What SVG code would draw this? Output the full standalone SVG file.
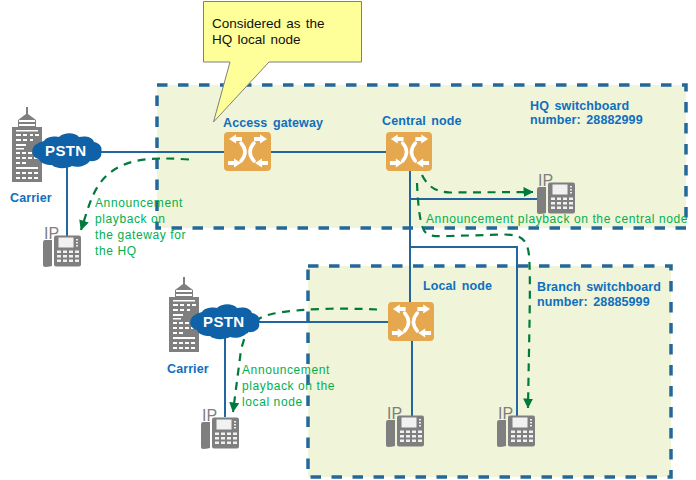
<svg xmlns="http://www.w3.org/2000/svg" width="696" height="480" viewBox="0 0 696 480">
<style>
  .zone{fill:#f0f4d9;stroke:none}
  .zoneedge{fill:none;stroke:#24689a;stroke-width:3.5;stroke-dasharray:10.5 10.5}
  .link{fill:none;stroke:#22659f;stroke-width:2}
  .flow{fill:none;stroke:#007a3c;stroke-width:2.2;stroke-dasharray:8 6.500}
  .tag{font:bold 12.500px "Liberation Sans",Arial,sans-serif;fill:#0f6fbe;word-spacing:2px;letter-spacing:.1px}
  .note{font:12px "Liberation Sans",Arial,sans-serif;fill:#00b050;letter-spacing:.6px}
  .cloudtext{font:bold 15px "Liberation Sans",Arial,sans-serif;fill:#fff;letter-spacing:.4px}
  .iptext{font:16px "Liberation Sans",Arial,sans-serif;fill:#7f7f7f}
  .calltext{font:13.500px "Liberation Sans",Arial,sans-serif;fill:#111;word-spacing:1.5px}
</style>
<defs>
  <marker id="head" viewBox="0 0 10 10" refX="9.500" refY="5" markerWidth="10" markerHeight="10" markerUnits="userSpaceOnUse" orient="auto">
    <path d="M0 0L10 5L0 10Z" fill="#007a3c"/>
  </marker>
  <symbol id="switch" viewBox="0 0 47 39" preserveAspectRatio="none" overflow="visible">
    <rect width="47" height="39" rx="4" fill="#e5a84f"/>
    <g fill="#fff">
      <path d="M5 7L12 2.500V5H18V9H12V11.500Z"/>
      <path d="M43 7L36 2.500V5H30V9H36V11.500Z"/>
      <path d="M17 31L10 26.500V29H4V33H10V35.500Z"/>
      <path d="M31 31L38 26.500V29H44V33H38V35.500Z"/>
    </g>
    <g fill="none" stroke="#fff" stroke-width="3.500" stroke-linecap="round">
      <path d="M17 11Q25 20 17 29"/>
      <path d="M30 11Q22 20 30 29"/>
    </g>
  </symbol>
  <symbol id="tower" viewBox="0 0 30 75" overflow="visible">
    <path d="M14 0H16V7L24 13V20H30V75H0V20H6V13L14 7Z" fill="#7f7f7f"/>
    <g fill="#fff">
      <rect x="7" y="13" width="16" height="2"/><rect x="7" y="17" width="16" height="2"/>
      <rect x="4" y="23" width="22" height="1.500"/>
      <path d="M4 27h5v2h-5zM11 27h4v2h-4zM18 27h3v2h-3zM23 27h4v2h-4z"/>
      <path d="M4 32h5v2h-5zM11 32h4v2h-4zM18 32h3v2h-3z"/>
      <rect x="4" y="37" width="10" height="2"/><rect x="4" y="41" width="8" height="1.500"/>
      <path d="M4 45h4v2h-4zM10 45h4v2h-4zM16 45h4v2h-4z"/>
      <path d="M4 50h4v2h-4zM10 50h4v2h-4zM16 50h4v2h-4zM22 50h4v2h-4z"/>
      <path d="M4 55h4v2h-4zM10 55h4v2h-4z"/>
      <rect x="4" y="60" width="22" height="2"/>
      <path d="M4 65h4v2h-4zM10 65h4v2h-4zM16 65h4v2h-4zM22 65h4v2h-4z"/>
      <path d="M4 70h4v2h-4zM10 70h4v2h-4zM16 70h4v2h-4zM22 70h4v2h-4z"/>
    </g>
  </symbol>
  <symbol id="pstn" viewBox="0 0 70 35" overflow="visible">
    <path d="M12 8C15 3 24 3 27 4C32 -1 43 -1 47 4C52 3 60 3 62 9C68 10 71 15 69 19C71 25 64 29 58 28C54 33 46 35 40 33C34 36 24 36 20 32C14 32 8 30 7 26C1 25 -1 19 1 15C3 11 8 9 12 8Z" fill="#0f62a8"/>
  </symbol>
  <symbol id="phone" viewBox="0 0 39 40" overflow="visible">
    <text class="iptext" x="2" y="12">IP</text>
    <path d="M1 16Q1 13 3 13H10V39Q6 40 3 40Q1 40 1 38Z" fill="#7f7f7f"/>
    <rect x="12" y="8.500" width="27" height="31" rx="2" fill="#7f7f7f"/>
    <rect x="16.500" y="10.500" width="15" height="10" fill="#f1f1f1"/>
    <path d="M34 12h2v1.500h-2zM34 15h2v1.500h-2zM34 18h2v1.500h-2z" fill="#eee"/>
    <g fill="#f1f1f1">
      <path d="M15 23.500h4v2.500h-4zM21 23.500h4v2.500h-4zM27 23.500h4v2.500h-4zM33 23.500h4v2.500h-4z"/>
      <path d="M15 28h4v2.500h-4zM21 28h4v2.500h-4zM27 28h4v2.500h-4zM33 28h4v2.500h-4z"/>
      <path d="M15 32.500h4v2.500h-4zM21 32.500h4v2.500h-4zM27 32.500h4v2.500h-4zM33 32.500h4v2.500h-4z"/>
    </g>
  </symbol>
</defs>

<!-- Switchboard zones -->
<g id="zone-hq">
  <rect class="zone" x="157" y="85" width="529" height="143"/>
  <rect class="zoneedge" x="157" y="85" width="529" height="143"/>
</g>
<g id="zone-branch">
  <rect class="zone" x="308" y="266" width="363" height="211"/>
  <rect class="zoneedge" x="308" y="266" width="363" height="211"/>
</g>

<!-- Links and announcement paths -->
<g id="connectors">
  <path class="link" d="M95 152H224M271 152H386"/>
  <path class="link" d="M67 160V238"/>
  <path class="link" d="M410 171V302"/>
  <path class="link" d="M410 199H537"/>
  <path class="link" d="M410 247H517V416"/>
  <path class="link" d="M250 322H388"/>
  <path class="link" d="M225 335V417"/>
  <path class="link" d="M412 341V416"/>
  <path class="flow" marker-end="url(#head)" d="M189 159.500C150 157 117 157 98 186C90 199 87 212 81 230"/>
  <path class="flow" marker-end="url(#head)" d="M422 175C428 187 436 192 450 192.500L533 192"/>
  <path class="flow" marker-end="url(#head)" d="M417 183C418 205 420 228 426 233C430 237 440 236 450 236L505 234.500C520 235 527 238 529 255C531 280 529 340 528 408"/>
  <path class="flow" marker-end="url(#head)" d="M377 309.500C345 308 300 308 272 314C252 318 246 330 241 350L233 412"/>
</g>

<g id="callout">
  <path d="M203.500 1.500H361.500V62H269L213.500 122L230 62H203.500Z" fill="#ffff99" stroke="#7f7f7f" stroke-width="1"/>
  <text class="calltext" x="212" y="28">Considered as the</text>
  <text class="calltext" x="212" y="44">HQ local node</text>
</g>

<g id="carrier-hq">
  <use href="#tower" x="12" y="107" width="30" height="75"/>
  <use href="#pstn" x="32" y="133" width="70" height="35"/>
  <text class="cloudtext" x="45" y="156">PSTN</text>
  <text class="tag" x="10" y="202">Carrier</text>
</g>
<g id="carrier-branch">
  <use href="#tower" x="169" y="277" width="30" height="75"/>
  <use href="#pstn" x="190" y="304" width="70" height="35"/>
  <text class="cloudtext" x="203" y="327">PSTN</text>
  <text class="tag" x="167" y="373">Carrier</text>
</g>

<g id="access-gateway">
  <use href="#switch" x="224" y="132" width="47" height="39"/>
  <text class="tag" x="223" y="127">Access gateway</text>
</g>
<g id="central-node">
  <use href="#switch" x="386" y="132" width="46" height="39"/>
  <text class="tag" x="382" y="125">Central node</text>
</g>
<g id="local-node">
  <use href="#switch" x="388" y="302" width="46" height="39"/>
  <text class="tag" x="423" y="290">Local node</text>
</g>

<g id="phone-carrier-hq"><use href="#phone" x="42" y="227" width="39" height="40"/></g>
<g id="phone-central"><use href="#phone" x="536" y="174" width="39" height="40"/></g>
<g id="phone-carrier-branch"><use href="#phone" x="200" y="409" width="39" height="40"/></g>
<g id="phone-local"><use href="#phone" x="385" y="407" width="39" height="40"/></g>
<g id="phone-branch"><use href="#phone" x="496" y="407" width="39" height="40"/></g>

<g id="labels">
  <text class="tag" x="530" y="110">HQ switchboard</text>
  <text class="tag" x="530" y="124">number: 28882999</text>
  <text class="tag" x="537" y="291">Branch switchboard</text>
  <text class="tag" x="537" y="306">number: 28885999</text>
  <text class="note" x="95" y="207">Announcement</text>
  <text class="note" x="95" y="223">playback on</text>
  <text class="note" x="95" y="239">the gateway for</text>
  <text class="note" x="95" y="255">the HQ</text>
  <text class="note" x="426" y="223">Announcement playback on the central node</text>
  <text class="note" x="242" y="374">Announcement</text>
  <text class="note" x="242" y="390">playback on the</text>
  <text class="note" x="242" y="406">local node</text>
</g>
</svg>
